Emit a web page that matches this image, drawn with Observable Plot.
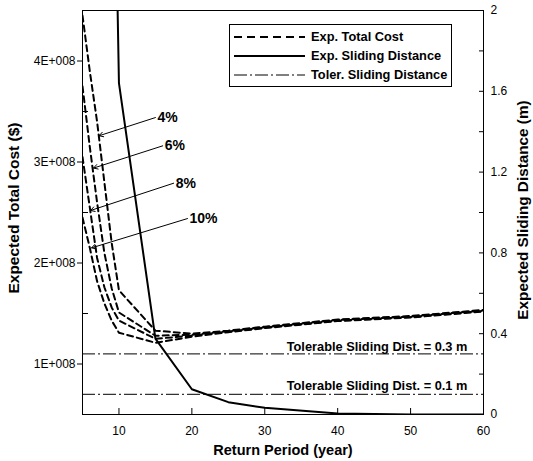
<!DOCTYPE html>
<html><head><meta charset="utf-8">
<script src="https://cdn.jsdelivr.net/npm/d3@7"></script>
<script src="https://cdn.jsdelivr.net/npm/@observablehq/plot@0.6"></script>
<style>
body{margin:0;background:#fff;font-family:"Liberation Sans",Arial,sans-serif;}
#wrap{position:relative;width:533px;height:461px;}
#legend{position:absolute;left:229px;top:24px;width:221px;height:61px;border:1px solid #000;background:#fff;}
.row{position:absolute;left:0;height:19px;display:flex;align-items:center;}
.row svg{margin-left:4px;}
.row span{margin-left:6px;font-weight:bold;font-size:12.8px;color:#000;white-space:nowrap;}
.vtitle{position:absolute;width:300px;height:20px;line-height:20px;text-align:center;font-weight:bold;color:#000;transform:rotate(-90deg);transform-origin:50% 50%;white-space:nowrap;}
</style></head><body><div id="wrap"></div>
<script>
// Return periods (years) for expected total cost curves
const years = [5, 6, 7, 8, 9, 10, 15, 20, 25, 30, 40, 50, 60];
const cost4  = [4.45e8, 3.9e8, 3.4e8, 2.8e8, 2.2e8, 1.73e8, 1.33e8, 1.30e8, 1.33e8, 1.37e8, 1.44e8, 1.475e8, 1.535e8];
const cost6  = [3.75e8, 3.15e8, 2.6e8, 2.1e8, 1.75e8, 1.51e8, 1.28e8, 1.29e8, 1.325e8, 1.365e8, 1.435e8, 1.47e8, 1.53e8];
const cost8  = [3.05e8, 2.55e8, 2.05e8, 1.76e8, 1.56e8, 1.43e8, 1.25e8, 1.28e8, 1.32e8, 1.36e8, 1.43e8, 1.465e8, 1.525e8];
const cost10 = [2.45e8, 2.15e8, 1.82e8, 1.6e8, 1.43e8, 1.31e8, 1.21e8, 1.27e8, 1.315e8, 1.355e8, 1.425e8, 1.46e8, 1.52e8];
const rates = ["4%", "6%", "8%", "10%"];

// Expected sliding distance (m)
const slideYears = [5, 10, 15, 20, 25, 30, 40, 50, 60];
const sliding = [11.5, 1.64, 0.376, 0.125, 0.061, 0.033, 0.005, 0, 0];

// Tolerable sliding distances (m)
const tolerable = [0.3, 0.1];
const tolLabels = ["Tolerable Sliding Dist. = 0.3 m", "Tolerable Sliding Dist. = 0.1 m"];
const tolLabelPos = [0.337, 0.144];

// Rate annotations (arrow from label to curve)
const annYear1 = [15.0, 16.0, 17.5, 19.4];
const annCost1 = [3.44e8, 3.16e8, 2.79e8, 2.44e8];
const annYear2 = [7.28, 6.52, 6.11, 6.25];
const annCost2 = [3.26e8, 2.94e8, 2.52e8, 2.15e8];

// Axis ticks
const xTicks = [10, 20, 30, 40, 50, 60];
const costTicks = [1e8, 2e8, 3e8, 4e8];
const costMinor = [1.5e8, 2.5e8, 3.5e8];
const slideTicks = [0, 0.4, 0.8, 1.2, 1.6, 2];
const slideMinor = [0.2, 0.6, 1.0, 1.4, 1.8];

// map sliding distance onto the cost axis (0..2 m <-> 0.5e8..4.5e8 $)
const toCost = s => 5e7 + s * 2e8;
const toSlide = c => (c - 5e7) / 2e8;

const costArrays = [cost4, cost6, cost8, cost10];
const costRows = [];
costArrays.forEach((arr, k) => arr.forEach((c, i) => costRows.push({year: years[i], cost: c, rate: rates[k]})));
const slideRows = slideYears.map((y, i) => ({year: y, s: sliding[i]}));
const annRows = rates.map((r, i) => ({r, x1: annYear1[i], y1: annCost1[i], x2: annYear2[i], y2: annCost2[i]}));
const tolRows = tolerable.map((t, i) => ({t, label: tolLabels[i], ly: tolLabelPos[i]}));

const dashDot = "13,3,2,3";

const chart = Plot.plot({
  width: 533, height: 461,
  marginLeft: 82, marginRight: 50, marginTop: 10, marginBottom: 47,
  style: {fontFamily: "'Liberation Sans', Arial, sans-serif", fontSize: "12px", background: "white", color: "black"},
  x: {domain: [5, 60]},
  y: {domain: [5e7, 4.5e8]},
  marks: [
    Plot.ruleY(tolRows, {y: d => toCost(d.t), stroke: "black", strokeWidth: 1, strokeDasharray: dashDot}),
    Plot.line(costRows, {x: "year", y: "cost", z: "rate", stroke: "black", strokeWidth: 2, strokeDasharray: "6,4", clip: true}),
    Plot.line(slideRows, {x: "year", y: d => toCost(d.s), stroke: "black", strokeWidth: 2, clip: true}),
    Plot.arrow(annRows, {x1: "x1", y1: "y1", x2: "x2", y2: "y2", stroke: "black", strokeWidth: 1, headLength: 7}),
    Plot.text(annRows, {x: "x1", y: "y1", text: "r", textAnchor: "start", dx: 2, fontWeight: "bold", fontSize: 14}),
    Plot.text(tolRows, {x: 45.4, y: d => toCost(d.ly), text: "label", fontWeight: "bold", fontSize: 12.8}),
    Plot.frame({stroke: "black", strokeWidth: 1}),
    // left axis
    Plot.axisY({ticks: costTicks, tickSize: 5, tickPadding: 2, tickFormat: v => (v / 1e8) + "E+008", fontSize: 12, label: null}),
    Plot.axisY({ticks: costMinor, tickSize: 6, dx: 6, tickFormat: () => "", label: null}),
    // right axis
    Plot.axisY({anchor: "right", ticks: slideTicks.concat(slideMinor).map(toCost), tickSize: 5, dx: -5, tickFormat: () => "", label: null}),
    Plot.axisY({anchor: "right", ticks: slideTicks.map(toCost), tickSize: 0, tickPadding: 7, fontSize: 12,
      tickFormat: v => String(+toSlide(v).toFixed(1)), label: null}),
    // bottom axis
    Plot.axisX({ticks: xTicks, tickSize: 6, dy: -6, tickFormat: () => "", label: null}),
    Plot.axisX({ticks: xTicks, tickSize: 0, tickPadding: 12, fontSize: 12, label: null}),
    // x axis title
    Plot.text(["Return Period (year)"], {frameAnchor: "bottom", dy: 36, fontWeight: "bold", fontSize: 14.5, lineAnchor: "middle"})
  ]
});
const wrap = document.getElementById("wrap");
wrap.appendChild(chart);

// rotated y-axis titles
const yTitles = [
  {text: "Expected Total Cost ($)", cx: 14, cy: 208, size: 15.5},
  {text: "Expected Sliding Distance (m)", cx: 523, cy: 210, size: 15.3}
];
yTitles.forEach(t => {
  const d = document.createElement("div");
  d.className = "vtitle";
  d.textContent = t.text;
  d.style.fontSize = t.size + "px";
  d.style.left = (t.cx - 150) + "px";
  d.style.top = (t.cy - 10) + "px";
  wrap.appendChild(d);
});

// legend overlay
const legendItems = [
  {label: "Exp. Total Cost", w: 2, dash: "8,5"},
  {label: "Exp. Sliding Distance", w: 2, dash: null},
  {label: "Toler. Sliding Distance", w: 1, dash: dashDot}
];
const leg = document.createElement("div");
leg.id = "legend";
legendItems.forEach((it, i) => {
  const row = document.createElement("div");
  row.className = "row";
  row.style.top = (2 + i * 19) + "px";
  row.innerHTML = `<svg width="71" height="10"><line x1="0" x2="71" y1="5" y2="5" stroke="black" stroke-width="${it.w}" ${it.dash ? `stroke-dasharray="${it.dash}"` : ""}/></svg><span>${it.label}</span>`;
  leg.appendChild(row);
});
wrap.appendChild(leg);
</script>
</body></html>
